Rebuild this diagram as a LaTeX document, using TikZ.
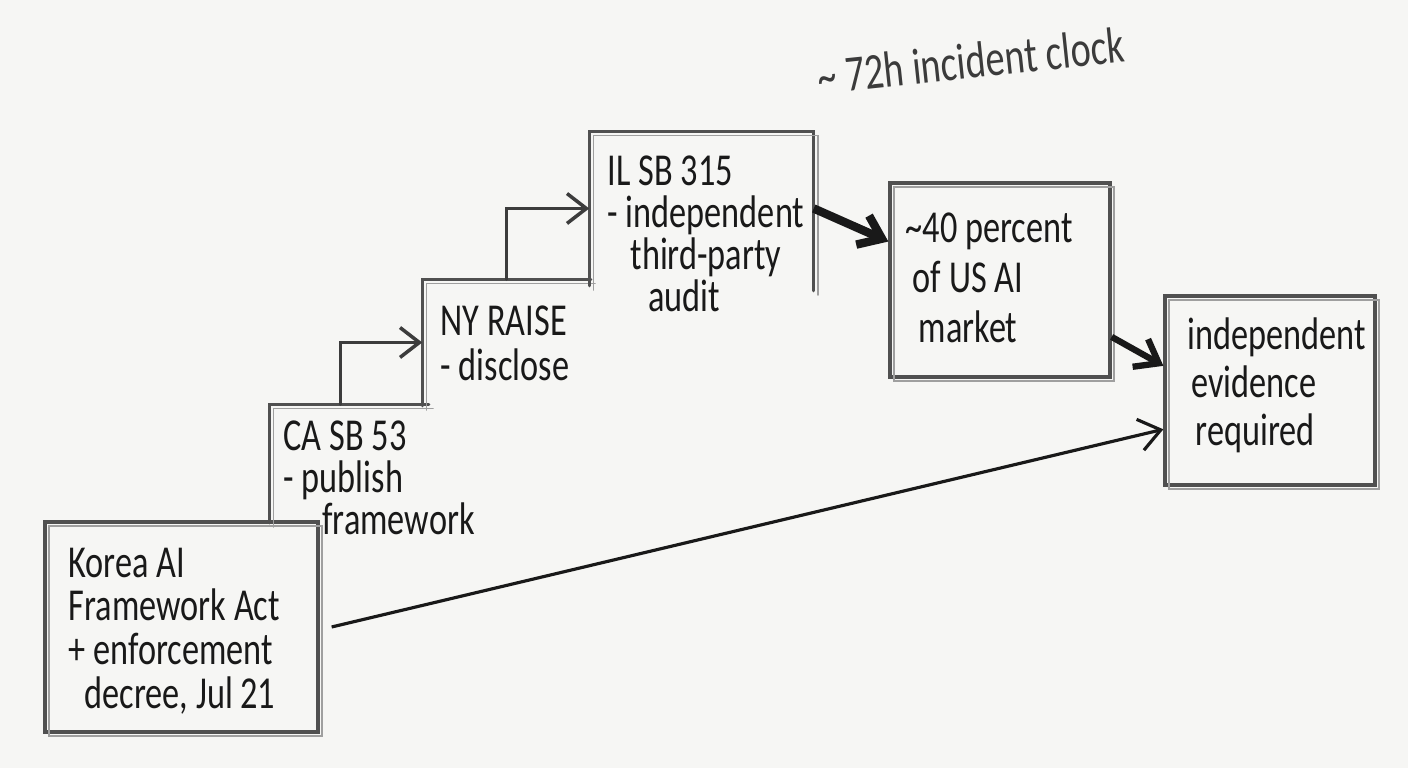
\documentclass[tikz,border=0pt]{standalone}
\usepackage{fontspec}
\setmainfont[FakeStretch=0.75]{Carlito}
\usetikzlibrary{arrows.meta}
\definecolor{paper}{RGB}{246,246,244}
\definecolor{ink}{RGB}{25,25,25}
\definecolor{pencil}{RGB}{80,80,80}
\tikzset{
  frame/.style 2 args={minimum width=#1,minimum height=#2,inner sep=0pt},
  pen/.style={draw=pencil,line width=0.9pt,line cap=round,
    postaction={draw=pencil!55,line width=0.5pt,transform canvas={shift={(1.2pt,-1.2pt)}}}},
  words/.style={font=\fontsize{13}{#1}\selectfont,align=left,anchor=north west,inner sep=0pt,text=ink},
  climb/.style={draw=ink!85,line width=1pt,line cap=round,-{Straight Barb[length=5.5pt,width=8.5pt]}},
  push/.style={draw=ink,line width=#1,-{Straight Barb[length=6pt,width=9pt]}},
}
\begin{document}
\begin{tikzpicture}[x=0.01cm,y=-0.01cm]
  \useasboundingbox (0,0) rectangle (1408,768);
  \fill[paper] (0,0) rectangle (1408,768);
  % boxes of the staircase
  \node[frame={2.73cm}{2.10cm},pen] (korea) at (181.5,627) {};
  \node[frame={1.53cm}{1.17cm}] (caBox) at (346.5,463.5) {};
  \node[frame={1.67cm}{1.25cm}] (nyBox) at (506.5,342.5) {};
  \node[frame={2.23cm}{1.53cm}] (ilBox) at (701.5,208.5) {};
  \node[frame={2.20cm}{1.94cm},pen] (pctBox) at (1000,280) {};
  \node[frame={2.10cm}{1.89cm},pen] (evidence) at (1270,390.5) {};
  \draw[pen] (caBox.south west) -- (caBox.north west) -- ([xshift=0.05cm]caBox.north east);
  \draw[pen] (nyBox.south west) -- (nyBox.north west) -- (nyBox.north east);
  \draw[pen] (ilBox.south west) -- (ilBox.north west) -- (ilBox.north east) -- ([yshift=-0.05cm]ilBox.south east);
  % texts
  \node[words=12.5pt] (koreaText) at (68,547) {Korea AI\\Framework Act\\+ enforcement\\\hspace{4.5pt}decree, Jul 21};
  \node[words=12pt] (caText) at (283,420) {CA SB 53\\- publish\\\hspace{11pt}framework};
  \node[words=12.8pt] (nyText) at (440,305) {NY RAISE\\- disclose};
  \node[words=12pt] (ilText) at (607,155) {IL SB 315\\- independent\\\hspace{6.5pt}third-party\\\hspace{11.5pt}audit};
  \node[words=14.2pt] (pctText) at (905,212) {\textasciitilde40 percent\\\hspace{2pt}of US AI\\\hspace{3.7pt}market};
  \node[words=13.7pt] (evidenceText) at (1187,317) {independent\\\hspace{1pt}evidence\\\hspace{2.3pt}required};
  \node[font=\fontsize{14.5}{15}\selectfont,text=ink!85,rotate=6,anchor=base west,inner sep=0pt] (clock)
    at ([xshift=0.05cm,yshift=0.37cm]ilBox.north east) {\textasciitilde\ 72h incident clock};
  % arrows
  \draw[climb] ([xshift=0.71cm]caBox.north west) |- (nyBox.west);
  \draw[climb] ([xshift=0.84cm]nyBox.north west) |- (ilBox.west);
  \draw[push=2.4pt] (ilBox.east) -- (pctBox.161);
  \draw[push=1.8pt] (pctBox.-27) -- (evidence.167);
  \draw[push=0.9pt] ([xshift=0.12cm]korea.east) -- (evidence.200);
\end{tikzpicture}
\end{document}
